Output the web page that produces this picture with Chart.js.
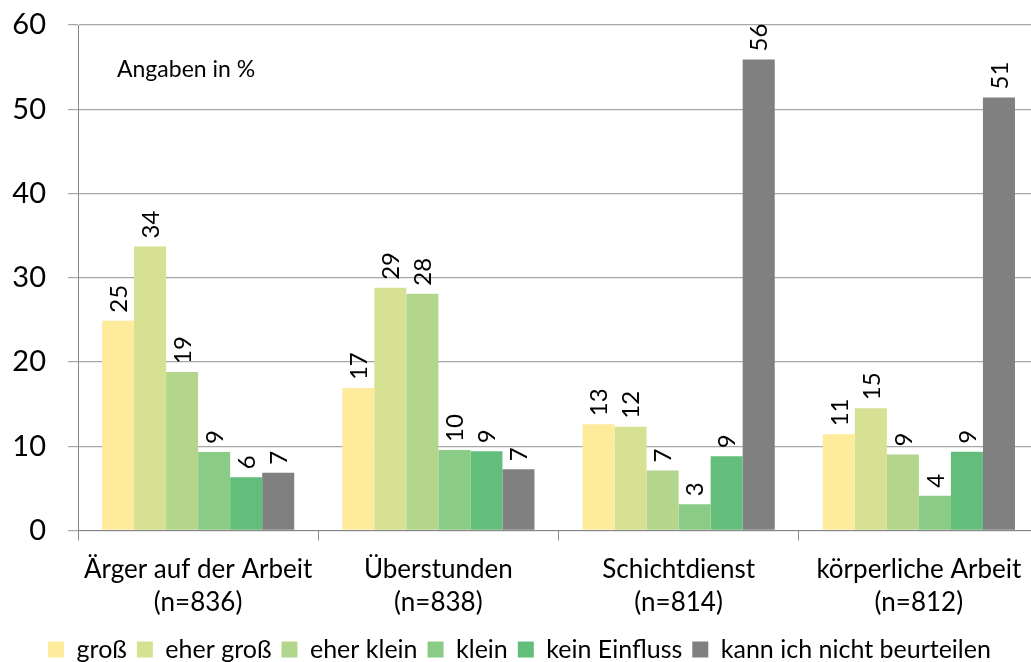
<!DOCTYPE html>
<html>
<head>
<meta charset="utf-8">
<script src="https://cdn.jsdelivr.net/npm/chart.js@4/dist/chart.umd.min.js"></script>
<style>
  html, body { margin: 0; padding: 0; background: #fff; overflow: hidden; }
  #wrap { position: absolute; left: 0; top: 0; width: 1041px; height: 662px; }
</style>
</head>
<body>
<div id="wrap"><canvas id="chart" width="1041" height="662"></canvas></div>
<script>
// Categories (two-line labels)
const categories = [
    ['Ärger auf der Arbeit', '(n=836)'],
    ['Überstunden', '(n=838)'],
    ['Schichtdienst', '(n=814)'],
    ['körperliche Arbeit', '(n=812)']
];

// Series
const seriesNames = ['groß', 'eher groß', 'eher klein', 'klein', 'kein Einfluss', 'kann ich nicht beurteilen'];
const gross      = [24.9, 16.9, 12.6, 11.4];
const eherGross  = [33.7, 28.8, 12.3, 14.5];
const eherKlein  = [18.8, 28.1, 7.1, 9.0];
const klein      = [9.3, 9.55, 3.1, 4.1];
const keinEinfl  = [6.3, 9.4, 8.8, 9.35];
const nichtBeurt = [6.85, 7.25, 55.9, 51.4];

const yTicks = [0, 10, 20, 30, 40, 50, 60];
const colors = ['#FFEB9C', '#D7E194', '#B3D68C', '#8ACB85', '#63BE7B', '#808080'];

const seriesValues = [gross, eherGross, eherKlein, klein, keinEinfl, nichtBeurt];

const FONT = 'Lato, "Open Sans", sans-serif';

// value labels, rotated, above each bar
const barLabels = {
    id: 'barLabels',
    afterDatasetsDraw(chart) {
        const ctx = chart.ctx;
        ctx.save();
        ctx.font = '24px ' + FONT;
        ctx.fillStyle = '#000';
        ctx.textAlign = 'left';
        ctx.textBaseline = 'middle';
        chart.data.datasets.forEach((ds, i) => {
            chart.getDatasetMeta(i).data.forEach((bar, j) => {
                ctx.save();
                ctx.translate(bar.x + 1, bar.y - 8);
                ctx.rotate(-Math.PI / 2);
                ctx.fillText(String(Math.round(ds.data[j])), 0, 0);
                ctx.restore();
            });
        });
        ctx.restore();
    }
};

// "Angaben in %" note, and legend nudged down a bit
const note = {
    id: 'note',
    afterLayout(chart) {
        chart.legend.top += 10;
        chart.legend.bottom += 10;
    },
    afterDraw(chart) {
        const ctx = chart.ctx;
        ctx.save();
        ctx.font = '23px ' + FONT;
        ctx.fillStyle = '#000';
        ctx.textBaseline = 'middle';
        ctx.fillText('Angaben in %', 117, 70);
        ctx.restore();
    }
};

new Chart(document.getElementById('chart'), {
    type: 'bar',
    data: {
        labels: categories,
        datasets: seriesNames.map((name, i) => ({
            label: name,
            data: seriesValues[i],
            backgroundColor: colors[i],
            borderWidth: 0,
            categoryPercentage: 0.8,
            barPercentage: 1.0
        }))
    },
    options: {
        responsive: false,
        animation: false,
        layout: { padding: { top: 25, right: 2, left: 0, bottom: 0 } },
        plugins: {
            legend: {
                position: 'bottom',
                labels: {
                    font: { family: FONT, size: 25 },
                    color: '#000',
                    boxWidth: 16,
                    boxHeight: 16,
                    padding: 10
                }
            },
            tooltip: { enabled: false }
        },
        scales: {
            x: {
                afterFit(scale) { scale.height -= 15; },
                grid: {
                    drawOnChartArea: false,
                    drawTicks: true,
                    tickLength: 10,
                    color: '#868686'
                },
                border: { color: '#868686', width: 1 },
                ticks: {
                    font: { family: FONT, size: 26, lineHeight: 1.3 },
                    color: '#000',
                    maxRotation: 0,
                    padding: 12
                }
            },
            y: {
                min: 0,
                max: 60,
                afterBuildTicks(scale) {
                    scale.ticks = yTicks.map(v => ({ value: v }));
                },
                afterFit(scale) {
                    scale.width = 78;
                    scale.paddingTop = 0;
                    scale.paddingBottom = 0;
                },
                grid: {
                    color: '#A6A6A6',
                    lineWidth: 1.2,
                    tickLength: 10
                },
                border: { color: '#868686', width: 1 },
                ticks: {
                    font: { family: FONT, size: 29 },
                    color: '#000',
                    padding: 22
                }
            }
        }
    },
    plugins: [barLabels, note]
});
</script>
</body>
</html>
